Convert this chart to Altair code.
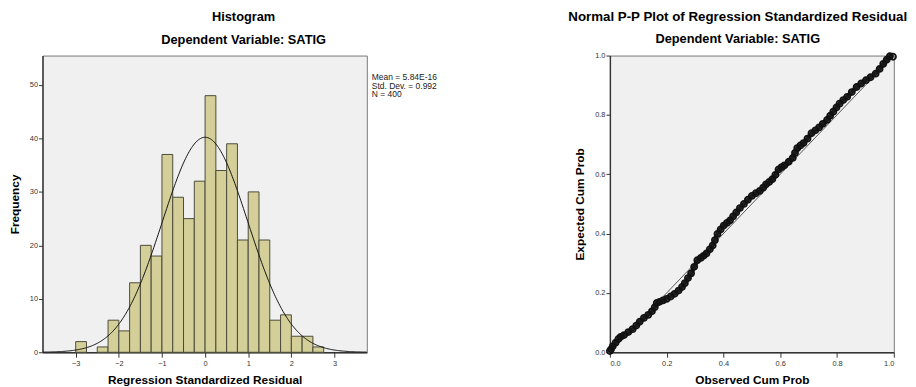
import altair as alt
import pandas as pd

# ---------------- data ----------------
bin_start = [-3.0, -2.75, -2.5, -2.25, -2.0, -1.75, -1.5, -1.25, -1.0, -0.75, -0.5, -0.25,
             0.0, 0.25, 0.5, 0.75, 1.0, 1.25, 1.5, 1.75, 2.0, 2.25, 2.5]
counts = [2, 0, 1, 6, 4, 13, 20, 18, 37, 29, 25, 32, 48, 34, 39, 21, 30, 21, 6, 7, 3, 3, 1]
bin_width = 0.25
res_mean = 5.84e-16
res_sd = 0.992
res_n = 400
stats_lines = ["Mean = 5.84E-16", "Std. Dev. = 0.992", "N = 400"]

obs_cum = [0.000, 0.004, 0.010, 0.020, 0.030, 0.038, 0.050, 0.065, 0.080, 0.093, 0.105, 0.120,
           0.135, 0.148, 0.158, 0.165, 0.175, 0.187, 0.200, 0.214, 0.228, 0.242, 0.254, 0.264,
           0.275, 0.286, 0.297, 0.308, 0.320, 0.330, 0.340, 0.352, 0.362, 0.370, 0.379, 0.390,
           0.401, 0.412, 0.423, 0.434, 0.445, 0.458, 0.472, 0.486, 0.500, 0.514, 0.528, 0.540,
           0.550, 0.561, 0.572, 0.583, 0.594, 0.605, 0.615, 0.630, 0.644, 0.652, 0.660, 0.671,
           0.682, 0.696, 0.710, 0.724, 0.737, 0.750, 0.765, 0.776, 0.787, 0.798, 0.809, 0.822,
           0.836, 0.852, 0.869, 0.885, 0.902, 0.918, 0.936, 0.950, 0.963, 0.975, 0.986, 0.997]
exp_cum = [0.004, 0.010, 0.020, 0.032, 0.045, 0.052, 0.058, 0.068, 0.078, 0.090, 0.103, 0.116,
           0.126, 0.138, 0.152, 0.166, 0.170, 0.175, 0.180, 0.188, 0.197, 0.208, 0.220, 0.233,
           0.250, 0.266, 0.288, 0.310, 0.318, 0.325, 0.333, 0.347, 0.360, 0.378, 0.399, 0.414,
           0.427, 0.436, 0.444, 0.458, 0.471, 0.486, 0.500, 0.514, 0.527, 0.536, 0.544, 0.555,
           0.566, 0.574, 0.583, 0.598, 0.616, 0.624, 0.630, 0.642, 0.655, 0.672, 0.688, 0.697,
           0.705, 0.720, 0.738, 0.748, 0.758, 0.770, 0.783, 0.797, 0.811, 0.825, 0.838, 0.850,
           0.861, 0.877, 0.894, 0.906, 0.917, 0.927, 0.939, 0.955, 0.972, 0.986, 0.998, 0.996]
diag_x = [0.0, 1.0]
diag_y = [0.0, 1.0]

FONT = "Liberation Sans"

# ---------------- left: histogram ----------------
hist_df = pd.DataFrame({"lo": bin_start, "n": counts})
xs = alt.Scale(domain=[-3.77, 3.75], nice=False, zero=False)
ys = alt.Scale(domain=[0, 55.5], nice=False)

x_axis_h = alt.Axis(title="Regression Standardized Residual", values=[-3, -2, -1, 0, 1, 2, 3],
                    grid=False, tickSize=5, labelFontSize=7.5, labelColor="#333",
                    titleFontSize=12, titleFontWeight="bold", titleColor="black",
                    labelPadding=2, titlePadding=8)
y_axis_h = alt.Axis(title="Frequency", values=[0, 10, 20, 30, 40, 50], grid=False,
                    tickSize=4, labelFontSize=7.5, labelColor="#333",
                    titleFontSize=12, titleFontWeight="bold", titleColor="black",
                    labelPadding=1, titlePadding=8)

bars = alt.Chart(hist_df).transform_filter("datum.n > 0").transform_calculate(
    hi=f"datum.lo + {bin_width}"
).mark_rect(fill="#D4CF98", stroke="#4a4a3a", strokeWidth=1).encode(
    x=alt.X("lo:Q", scale=xs, axis=x_axis_h),
    x2="hi:Q",
    y=alt.Y("n:Q", scale=ys, axis=y_axis_h),
    y2=alt.datum(0),
)

curve = alt.Chart(alt.sequence(-3.77, 3.76, 0.02, as_="z")).transform_calculate(
    f=f"{res_n * bin_width} * densityNormal(datum.z, {res_mean}, {res_sd})"
).mark_line(color="#111", strokeWidth=1, clip=True).encode(
    x=alt.X("z:Q", scale=xs),
    y=alt.Y("f:Q", scale=ys),
)

stats = alt.Chart(pd.DataFrame({"t": [stats_lines]})).mark_text(
    align="left", baseline="alphabetic", fontSize=8.6, font=FONT, color="#222",
    lineHeight=8.7
).encode(x=alt.value(334), y=alt.value(25), text="t")

left = alt.layer(bars, curve, stats).properties(
    width=329, height=301,
    title=alt.TitleParams("Histogram", subtitle="Dependent Variable: SATIG", fontSize=13,
                          fontWeight="bold", font=FONT, color="black", lineHeight=13,
                          subtitleFontSize=13, subtitleFontWeight="bold", subtitleFont=FONT,
                          subtitleColor="black", subtitleLineHeight=13, subtitlePadding=10.4,
                          anchor="middle", dx=39.5, offset=9),
)

# ---------------- right: P-P plot ----------------
pp_df = pd.DataFrame({"obs": obs_cum, "exp": exp_cum})
diag_df = pd.DataFrame({"dx": diag_x, "dy": diag_y})
ps = alt.Scale(domain=[0, 1], nice=False)

x_axis_p = alt.Axis(title="Observed Cum Prob", values=[0, 0.2, 0.4, 0.6, 0.8, 1.0], format=".1f",
                    grid=False, tickSize=5, labelFontSize=7.5, labelColor="#333",
                    titleFontSize=12, titleFontWeight="bold", titleColor="black",
                    labelPadding=2, titlePadding=8)
y_axis_p = alt.Axis(title="Expected Cum Prob", values=[0, 0.2, 0.4, 0.6, 0.8, 1.0], format=".1f",
                    grid=False, tickSize=4, labelFontSize=7.5, labelColor="#333",
                    titleFontSize=12, titleFontWeight="bold", titleColor="black",
                    labelPadding=1, titlePadding=8)

diag = alt.Chart(diag_df).mark_line(color="#555", strokeWidth=1).encode(
    x=alt.X("dx:Q", scale=ps, axis=x_axis_p),
    y=alt.Y("dy:Q", scale=ps, axis=y_axis_p),
)
band = alt.Chart(pp_df).mark_line(color="#1a1a1a", strokeWidth=4.5).encode(
    x=alt.X("obs:Q", scale=ps),
    y=alt.Y("exp:Q", scale=ps),
)
pts = alt.Chart(pp_df).mark_point(shape="circle", filled=False, stroke="#111",
                                  strokeWidth=1.8, size=38, opacity=1).encode(
    x=alt.X("obs:Q", scale=ps),
    y=alt.Y("exp:Q", scale=ps),
)

right = alt.layer(diag, band, pts).properties(
    width=288, height=301,
    title=alt.TitleParams("Normal P-P Plot of Regression Standardized Residual",
                          subtitle="Dependent Variable: SATIG", fontSize=13.5,
                          fontWeight="bold", font=FONT, color="black", lineHeight=13.5,
                          subtitleFontSize=13, subtitleFontWeight="bold", subtitleFont=FONT,
                          subtitleColor="black", subtitleLineHeight=13, subtitlePadding=9.9,
                          anchor="middle", dx=-14.3, offset=1.5),
)

chart = alt.hconcat(left, right, spacing=246.6, bounds="flush").properties(
    padding={"left": 0, "top": -1.5, "right": 0, "bottom": 0}, background="white"
).configure_view(
    fill="#F0F0F0", stroke="#777", strokeWidth=1
).configure_axis(
    domainColor="#333", domainWidth=1.4, tickColor="#333", labelFont=FONT, titleFont=FONT
)

chart.save("out.html", embed_options={"renderer": "svg", "actions": False})
